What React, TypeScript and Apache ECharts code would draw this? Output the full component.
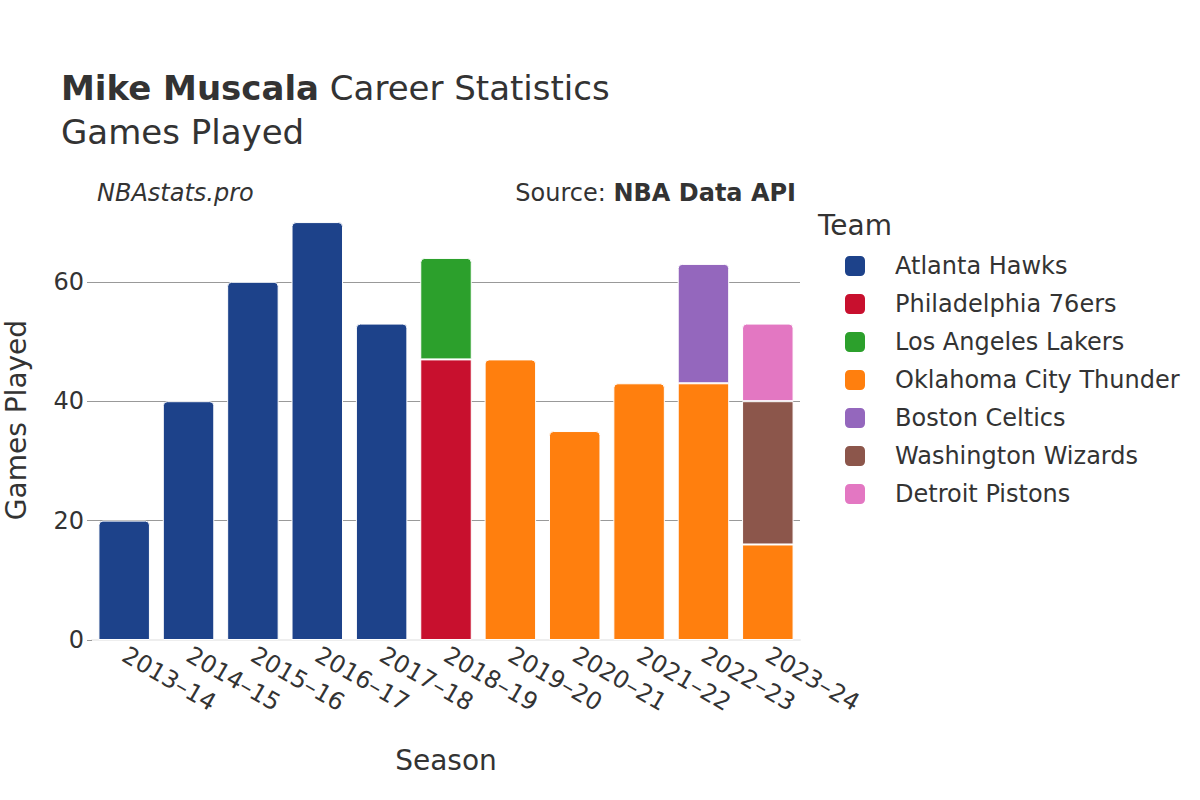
import React, { useEffect, useRef } from "react";
import * as echarts from "echarts";

const seasons = ["2013-14", "2014-15", "2015-16", "2016-17", "2017-18", "2018-19", "2019-20", "2020-21", "2021-22", "2022-23", "2023-24"];
const teams = ["Atlanta Hawks", "Philadelphia 76ers", "Los Angeles Lakers", "Oklahoma City Thunder", "Boston Celtics", "Washington Wizards", "Detroit Pistons"];
const teamColors = ["#1d428a", "#c8102e", "#2ca02c", "#ff7f0e", "#9467bd", "#8c564b", "#e377c2"];
const atlanta = [20, 40, 60, 70, 53, null, null, null, null, null, null];
const philadelphia = [null, null, null, null, null, 47, null, null, null, null, null];
const lakers = [null, null, null, null, null, 17, null, null, null, null, null];
const okc = [null, null, null, null, null, null, 47, 35, 43, 43, 16];
const boston = [null, null, null, null, null, null, null, null, null, 20, null];
const washington = [null, null, null, null, null, null, null, null, null, null, 24];
const detroit = [null, null, null, null, null, null, null, null, null, null, 13];
const yTicks = [0, 20, 40, 60];

const FONT = "DejaVu Sans";
const TXT = "#333333";

export default function App() {
  const ref = useRef<HTMLDivElement>(null);
  useEffect(() => {
    if (!ref.current) return;
    const chart = echarts.init(ref.current, null, { renderer: "svg" });
    const all = [atlanta, philadelphia, lakers, okc, boston, washington, detroit];
    const topIdx = seasons.map((_, i) => {
      let t = -1;
      all.forEach((s, k) => { if (s[i] != null) t = k; });
      return t;
    });
    const series = all.map((arr, k) => ({
      name: teams[k],
      type: "bar",
      stack: "total",
      barCategoryGap: "20%",
      itemStyle: { color: teamColors[k], borderColor: "#ffffff", borderWidth: 1 },
      data: arr.map((v, i) =>
        v == null ? null : {
          value: v,
          itemStyle: { borderRadius: topIdx[i] === k ? [4, 4, 0, 0] : 0 },
        }
      ),
    }));
    chart.setOption({
      animation: false,
      backgroundColor: "#ffffff",
      textStyle: { fontFamily: FONT },
      title: [
        {
          text: "{b|Mike Muscala} Career Statistics",
          left: 56, top: 66,
          textStyle: {
            fontFamily: FONT, fontSize: 34, color: TXT, fontWeight: "normal",
            rich: { b: { fontFamily: FONT, fontSize: 34, fontWeight: "bold", color: TXT } },
          },
        },
        { text: "Games Played", left: 56, top: 110, textStyle: { fontFamily: FONT, fontSize: 34, color: TXT, fontWeight: "normal" } },
        { text: "NBAstats.pro", left: 92, top: 176, textStyle: { fontFamily: FONT, fontSize: 24, color: TXT, fontStyle: "italic", fontWeight: "normal" } },
        {
          text: "Source: {b|NBA Data API}", right: 399, top: 176,
          textStyle: {
            fontFamily: FONT, fontSize: 24, color: TXT, fontWeight: "normal",
            rich: { b: { fontFamily: FONT, fontSize: 24, fontWeight: "bold", color: TXT } },
          },
        },
        { text: "Team", left: 813, top: 206, textStyle: { fontFamily: FONT, fontSize: 28, color: TXT, fontWeight: "normal" } },
      ],
      legend: {
        orient: "vertical",
        left: 838, top: 249,
        itemWidth: 22, itemHeight: 22, itemGap: 14,
        icon: "roundRect",
        data: teams,
        textStyle: { fontFamily: FONT, fontSize: 24, lineHeight: 24, color: TXT, padding: [0, 0, 0, 24] },
      },
      grid: { left: 92, right: 400, top: 200, bottom: 160, containLabel: false, outerBoundsMode: "none" },
      xAxis: {
        type: "category",
        data: seasons,
        name: "Season",
        nameLocation: "middle",
        nameGap: 106,
        nameTextStyle: { fontFamily: FONT, fontSize: 28, color: TXT },
        axisLine: { show: true, lineStyle: { color: "#eeeeee", width: 2 } },
        axisTick: { show: false },
        axisLabel: { rotate: -30, fontFamily: FONT, fontSize: 24, color: TXT, margin: 13, formatter: (v: string) => v.replace("-", "–") },
      },
      yAxis: {
        type: "value",
        min: 0, max: 73.7, interval: 20,
        name: "Games Played",
        nameLocation: "middle",
        nameGap: 62,
        nameTextStyle: { fontFamily: FONT, fontSize: 28, color: TXT },
        axisLine: { show: false },
        axisTick: { show: true, length: 5, customValues: yTicks, lineStyle: { color: "#999999" } },
        axisLabel: {
          fontFamily: FONT, fontSize: 24, color: TXT, margin: 8,
          customValues: yTicks,
          formatter: (v: number) => (yTicks.includes(v) ? String(v) : ""),
        },
        splitLine: { show: true, showMaxLine: true, showMinLine: false, lineStyle: { color: "#999999", width: 1 } },
      },
      series,
    });
    return () => chart.dispose();
  }, []);
  return <div ref={ref} style={{ width: 1200, height: 800, position: "absolute", left: 0, top: 0 }} />;
}
